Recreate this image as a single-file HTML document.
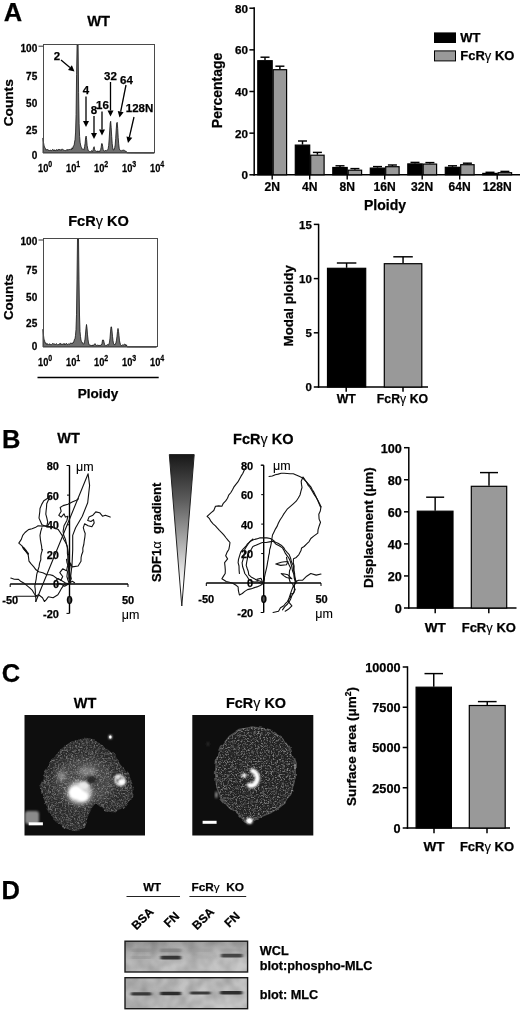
<!DOCTYPE html>
<html lang="en"><head><meta charset="utf-8"><title>Figure</title>
<style>html,body{margin:0;padding:0;background:#fff}body{width:520px;height:1012px;overflow:hidden}svg{display:block}text{font-family:'Liberation Sans', sans-serif;fill:#000;stroke:#000;stroke-width:0.25px}text.n{stroke-width:0.1px}</style></head><body>
<svg width="520" height="1012" viewBox="0 0 520 1012">
<defs>
<linearGradient id="blotbg" x1="0" y1="0" x2="1" y2="0.3">
<stop offset="0" stop-color="#b2b2b2"/><stop offset="0.5" stop-color="#c2c2c2"/><stop offset="1" stop-color="#c8c8c8"/>
</linearGradient>
<linearGradient id="blottop" x1="0" y1="0" x2="0" y2="1">
<stop offset="0" stop-color="#000" stop-opacity="0.16"/><stop offset="0.6" stop-color="#000" stop-opacity="0"/>
</linearGradient>
<linearGradient id="gradTri" x1="0" y1="0" x2="0" y2="1">
<stop offset="0" stop-color="#181818"/><stop offset="0.3" stop-color="#5c5c5c"/><stop offset="0.62" stop-color="#b8b8b8"/><stop offset="0.86" stop-color="#ffffff"/>
</linearGradient>
<filter id="blur1" x="-50%" y="-50%" width="200%" height="200%"><feGaussianBlur stdDeviation="1"/></filter>
<filter id="blur2" x="-50%" y="-50%" width="200%" height="200%"><feGaussianBlur stdDeviation="2"/></filter>
<filter id="blur3" x="-50%" y="-50%" width="200%" height="200%"><feGaussianBlur stdDeviation="3.5"/></filter>
<filter id="blurb" x="-20%" y="-150%" width="140%" height="400%"><feGaussianBlur stdDeviation="1.6 0.75"/></filter>
<filter id="rough" x="-10%" y="-10%" width="120%" height="120%">
<feTurbulence type="fractalNoise" baseFrequency="0.12" numOctaves="2" seed="7" result="t"/>
<feDisplacementMap in="SourceGraphic" in2="t" scale="4" xChannelSelector="R" yChannelSelector="G" result="d"/>
<feGaussianBlur in="d" stdDeviation="0.55"/>
</filter>
<filter id="speckA" x="0" y="0" width="100%" height="100%">
<feTurbulence type="fractalNoise" baseFrequency="0.6" numOctaves="2" seed="4" result="n"/>
<feColorMatrix in="n" type="matrix" values="0 0 0 0 1  0 0 0 0 1  0 0 0 0 1  2.2 2.2 0 0 -2.0" result="s"/>
<feComposite in="s" in2="SourceAlpha" operator="in"/>
</filter>
<filter id="speckB" x="0" y="0" width="100%" height="100%">
<feTurbulence type="fractalNoise" baseFrequency="0.7" numOctaves="2" seed="11" result="n"/>
<feColorMatrix in="n" type="matrix" values="0 0 0 0 1  0 0 0 0 1  0 0 0 0 1  2.4 2.4 0 0 -2.25" result="s"/>
<feComposite in="s" in2="SourceAlpha" operator="in"/>
</filter>
<filter id="blotn" x="0" y="0" width="100%" height="100%">
<feTurbulence type="fractalNoise" baseFrequency="0.08" numOctaves="2" seed="2" result="n"/>
<feColorMatrix in="n" type="matrix" values="0 0 0 0 0  0 0 0 0 0  0 0 0 0 0  0.3 0 0 0 -0.08" result="s"/>
<feComposite in="s" in2="SourceAlpha" operator="in"/>
</filter>
</defs>
<rect width="520" height="1012" fill="#fff"/>
<text x="3.8" y="21" font-size="25.5" font-weight="bold" text-anchor="start">A</text>
<text transform="translate(98.6 26.1) scale(0.95 1)" font-size="15.5" font-weight="bold" text-anchor="middle">WT</text>
<path d="M43.00,153.00 L43.00,137.96 L43.50,142.50 L44.00,145.28 L44.50,146.78 L45.01,148.15 L45.51,148.50 L46.01,150.31 L46.51,149.84 L47.01,149.22 L47.51,149.77 L48.01,149.42 L48.51,150.71 L49.02,150.16 L49.52,150.52 L50.02,150.05 L50.52,150.01 L51.02,150.91 L51.52,150.58 L52.02,150.48 L52.53,149.46 L53.03,149.69 L53.53,150.66 L54.03,149.64 L54.53,150.69 L55.03,149.92 L55.53,150.70 L56.04,150.89 L56.54,149.50 L57.04,150.55 L57.54,150.54 L58.04,149.30 L58.54,149.47 L59.04,150.40 L59.54,149.32 L60.05,149.98 L60.55,149.75 L61.05,150.50 L61.55,149.31 L62.05,149.70 L62.55,149.25 L63.05,149.35 L63.56,150.29 L64.06,150.17 L64.56,150.46 L65.06,150.48 L65.56,150.58 L66.06,150.18 L66.56,149.66 L67.06,150.59 L67.57,149.47 L68.07,149.97 L68.57,149.96 L69.07,149.08 L69.57,149.54 L70.07,149.71 L70.57,149.33 L71.08,148.81 L71.58,149.61 L72.08,147.81 L72.58,148.84 L73.08,146.93 L73.58,145.70 L74.08,145.48 L74.59,142.08 L75.09,139.43 L75.59,132.06 L76.09,114.50 L76.59,74.70 L77.09,45.00 L77.59,45.00 L78.09,45.00 L78.60,92.51 L79.10,123.51 L79.60,136.40 L80.10,142.25 L80.60,144.98 L81.10,146.64 L81.60,147.64 L82.11,149.40 L82.61,149.14 L83.11,149.40 L83.61,149.33 L84.11,149.75 L84.61,146.41 L85.11,143.24 L85.61,137.92 L86.12,136.08 L86.62,139.51 L87.12,145.45 L87.62,148.15 L88.12,150.18 L88.62,151.01 L89.12,151.20 L89.63,151.48 L90.13,151.67 L90.63,151.63 L91.13,150.95 L91.63,150.57 L92.13,151.64 L92.63,151.65 L93.14,149.52 L93.64,147.56 L94.14,146.70 L94.64,149.54 L95.14,150.75 L95.64,150.81 L96.14,151.36 L96.64,151.43 L97.15,151.92 L97.65,150.80 L98.15,151.94 L98.65,151.32 L99.15,150.83 L99.65,151.67 L100.15,150.65 L100.66,149.43 L101.16,147.36 L101.66,143.64 L102.16,143.65 L102.66,146.29 L103.16,149.71 L103.66,150.19 L104.16,151.27 L104.67,151.13 L105.17,150.41 L105.67,150.56 L106.17,150.32 L106.67,150.88 L107.17,150.59 L107.67,149.71 L108.18,148.58 L108.68,145.46 L109.18,139.11 L109.68,130.95 L110.18,123.22 L110.68,121.28 L111.18,127.47 L111.69,136.50 L112.19,143.57 L112.69,147.75 L113.19,149.80 L113.69,150.05 L114.19,149.11 L114.69,147.68 L115.19,145.06 L115.70,138.39 L116.20,130.09 L116.70,123.09 L117.20,122.35 L117.70,128.51 L118.20,137.54 L118.70,143.88 L119.21,148.35 L119.71,149.86 L120.21,150.19 L120.71,150.58 L121.21,151.23 L121.71,150.39 L122.21,150.58 L122.71,150.22 L123.22,150.47 L123.72,149.77 L124.22,150.69 L124.72,150.70 L125.22,151.30 L125.72,150.97 L126.22,151.24 L126.73,152.81 L127.23,152.83 L127.73,152.85 L128.23,152.86 L128.73,152.87 L129.23,152.88 L129.73,152.89 L130.24,152.89 L130.74,152.90 L131.24,152.91 L131.74,152.91 L132.24,152.92 L132.74,152.92 L133.24,152.92 L133.74,152.93 L134.25,152.93 L134.75,152.93 L135.25,152.94 L135.75,152.94 L136.25,152.94 L136.75,152.94 L137.25,152.95 L137.76,152.95 L138.26,152.95 L138.76,152.95 L139.26,152.95 L139.76,152.96 L140.26,152.96 L140.76,152.96 L141.26,152.96 L141.77,152.96 L142.27,152.96 L142.77,152.96 L143.27,152.96 L143.77,152.97 L144.27,152.97 L144.77,152.97 L145.28,152.97 L145.78,152.97 L146.28,152.97 L146.78,152.97 L147.28,152.97 L147.78,152.97 L148.28,152.97 L148.79,152.97 L149.29,152.97 L149.79,152.97 L150.29,152.98 L150.79,152.98 L151.29,152.98 L151.79,152.98 L152.29,152.98 L152.80,152.98 L153.30,152.98 L153.80,152.98 L154.30,152.98 L154.30,153.00 Z" fill="#6e6e6e" stroke="#111" stroke-width="0.8" stroke-linejoin="round"/>
<rect x="43.50" y="44.50" width="111.00" height="108.00" fill="none" stroke="#4a4a4a" stroke-width="1"/>
<text transform="translate(37.3 51.8) scale(0.95 1)" font-size="10.6" font-weight="bold" text-anchor="end">100</text>
<line x1="38.50" y1="46.20" x2="43.00" y2="46.20" stroke="#333" stroke-width="1"/>
<text transform="translate(37.3 80.4) scale(0.95 1)" font-size="10.6" font-weight="bold" text-anchor="end">75</text>
<text transform="translate(37.3 106.9) scale(0.95 1)" font-size="10.6" font-weight="bold" text-anchor="end">50</text>
<text transform="translate(37.3 133.5) scale(0.95 1)" font-size="10.6" font-weight="bold" text-anchor="end">25</text>
<text transform="translate(37.3 159.1) scale(0.95 1)" font-size="10.6" font-weight="bold" text-anchor="end">0</text>
<text transform="translate(38 171.8) scale(0.82 1)" font-size="11.3" font-weight="bold" text-anchor="start">10<tspan dy="-4.4" font-size="8.6">0</tspan></text>
<text transform="translate(66 171.8) scale(0.82 1)" font-size="11.3" font-weight="bold" text-anchor="start">10<tspan dy="-4.4" font-size="8.6">1</tspan></text>
<text transform="translate(94 171.8) scale(0.82 1)" font-size="11.3" font-weight="bold" text-anchor="start">10<tspan dy="-4.4" font-size="8.6">2</tspan></text>
<text transform="translate(122 171.8) scale(0.82 1)" font-size="11.3" font-weight="bold" text-anchor="start">10<tspan dy="-4.4" font-size="8.6">3</tspan></text>
<text transform="translate(150 171.8) scale(0.82 1)" font-size="11.3" font-weight="bold" text-anchor="start">10<tspan dy="-4.4" font-size="8.6">4</tspan></text>
<text transform="translate(12.6 102.8) rotate(-90)" font-size="13.7" font-weight="bold" text-anchor="middle">Counts</text>
<text x="57" y="59.5" font-size="11.5" font-weight="bold" text-anchor="middle">2</text>
<line x1="61.00" y1="60.00" x2="69.93" y2="67.61" stroke="#000" stroke-width="1.3"/>
<polygon points="74.50,71.50 67.99,69.89 71.88,65.33" fill="#000"/>
<text x="86" y="94" font-size="11.5" font-weight="bold" text-anchor="middle">4</text>
<line x1="86.00" y1="96.50" x2="86.00" y2="121.00" stroke="#000" stroke-width="1.3"/>
<polygon points="86.00,127.00 83.00,121.00 89.00,121.00" fill="#000"/>
<text x="94" y="114" font-size="11.5" font-weight="bold" text-anchor="middle">8</text>
<line x1="94.00" y1="116.00" x2="94.00" y2="133.00" stroke="#000" stroke-width="1.3"/>
<polygon points="94.00,139.00 91.00,133.00 97.00,133.00" fill="#000"/>
<text x="102.5" y="108.5" font-size="11.5" font-weight="bold" text-anchor="middle">16</text>
<line x1="102.00" y1="111.50" x2="102.00" y2="129.50" stroke="#000" stroke-width="1.3"/>
<polygon points="102.00,135.50 99.00,129.50 105.00,129.50" fill="#000"/>
<text x="110.5" y="80" font-size="11.5" font-weight="bold" text-anchor="middle">32</text>
<line x1="110.50" y1="82.00" x2="110.50" y2="110.50" stroke="#000" stroke-width="1.3"/>
<polygon points="110.50,116.50 107.50,110.50 113.50,110.50" fill="#000"/>
<text x="126.5" y="83.5" font-size="11.5" font-weight="bold" text-anchor="middle">64</text>
<line x1="126.00" y1="85.00" x2="120.68" y2="111.62" stroke="#000" stroke-width="1.3"/>
<polygon points="119.50,117.50 117.73,111.03 123.62,112.20" fill="#000"/>
<text x="139.5" y="111.5" font-size="11.5" font-weight="bold" text-anchor="middle">128N</text>
<line x1="134.00" y1="117.00" x2="129.35" y2="137.15" stroke="#000" stroke-width="1.3"/>
<polygon points="128.00,143.00 126.43,136.48 132.27,137.83" fill="#000"/>
<text transform="translate(98.5 226) scale(0.94 1)" font-size="15.5" font-weight="bold" text-anchor="middle">FcR<tspan font-weight="normal" stroke-width="0.1">γ</tspan> KO</text>
<path d="M43.00,347.00 L43.00,329.22 L43.50,335.27 L44.00,339.22 L44.50,340.23 L45.00,342.92 L45.50,342.92 L46.00,342.77 L46.50,344.37 L47.00,343.79 L47.50,343.80 L48.00,344.78 L48.50,344.28 L49.00,343.78 L49.50,344.20 L50.00,343.77 L50.50,344.68 L51.00,344.55 L51.50,344.76 L52.00,344.12 L52.50,343.45 L53.00,343.98 L53.50,343.69 L54.00,344.31 L54.50,343.73 L55.00,344.76 L55.50,344.45 L56.00,343.83 L56.50,343.75 L57.00,344.23 L57.50,344.76 L58.00,344.47 L58.50,344.55 L59.00,344.43 L59.50,343.58 L60.00,344.55 L60.50,343.44 L61.00,343.45 L61.50,344.76 L62.00,344.23 L62.50,344.04 L63.00,344.78 L63.50,344.12 L64.00,343.34 L64.50,344.60 L65.00,343.80 L65.50,344.55 L66.00,343.79 L66.50,343.26 L67.00,344.34 L67.50,344.62 L68.00,344.47 L68.50,343.70 L69.00,344.49 L69.50,344.32 L70.00,343.60 L70.50,342.84 L71.00,343.54 L71.50,343.45 L72.00,342.89 L72.50,343.52 L73.00,342.39 L73.50,342.50 L74.00,341.00 L74.50,339.23 L75.00,338.91 L75.50,335.33 L76.00,329.47 L76.50,314.78 L77.00,279.11 L77.50,238.80 L78.00,238.80 L78.50,238.80 L79.00,279.88 L79.50,315.02 L80.00,331.35 L80.50,336.61 L81.00,340.10 L81.50,341.41 L82.00,342.16 L82.50,343.01 L83.00,343.20 L83.50,344.25 L84.00,343.64 L84.50,341.77 L85.00,339.13 L85.50,334.08 L86.00,328.15 L86.50,324.48 L87.00,328.04 L87.50,334.89 L88.00,339.23 L88.50,343.00 L89.00,344.26 L89.50,345.08 L90.00,345.00 L90.50,345.27 L91.00,345.66 L91.50,345.02 L92.00,345.75 L92.50,344.89 L93.00,345.90 L93.50,344.91 L94.00,344.72 L94.50,344.49 L95.00,343.62 L95.50,344.84 L96.00,344.86 L96.50,345.45 L97.00,345.74 L97.50,344.80 L98.00,345.53 L98.50,345.57 L99.00,344.93 L99.50,345.55 L100.00,345.13 L100.50,345.70 L101.00,344.61 L101.50,344.69 L102.00,343.41 L102.50,340.04 L103.00,339.88 L103.50,340.06 L104.00,342.17 L104.50,344.19 L105.00,345.62 L105.50,345.75 L106.00,345.60 L106.50,345.36 L107.00,345.03 L107.50,344.50 L108.00,345.16 L108.50,345.11 L109.00,343.71 L109.50,342.17 L110.00,338.21 L110.50,331.93 L111.00,326.77 L111.50,327.01 L112.00,330.86 L112.50,336.30 L113.00,340.62 L113.50,343.50 L114.00,343.83 L114.50,345.06 L115.00,344.32 L115.50,343.83 L116.00,342.45 L116.50,340.20 L117.00,336.25 L117.50,331.40 L118.00,328.44 L118.50,331.28 L119.00,335.64 L119.50,340.85 L120.00,342.75 L120.50,344.78 L121.00,345.55 L121.50,345.49 L122.00,345.13 L122.50,344.88 L123.00,344.90 L123.50,344.96 L124.00,344.47 L124.50,344.01 L125.00,344.82 L125.50,344.56 L126.00,345.94 L126.50,344.80 L127.00,346.84 L127.50,346.87 L128.00,346.89 L128.50,346.90 L129.00,346.91 L129.50,346.91 L130.00,346.92 L130.50,346.92 L131.00,346.93 L131.50,346.93 L132.00,346.94 L132.50,346.94 L133.00,346.94 L133.50,346.95 L134.00,346.95 L134.50,346.95 L135.00,346.95 L135.50,346.96 L136.00,346.96 L136.50,346.96 L137.00,346.96 L137.50,346.96 L138.00,346.96 L138.50,346.96 L139.00,346.97 L139.50,346.97 L140.00,346.97 L140.50,346.97 L141.00,346.97 L141.50,346.97 L142.00,346.97 L142.50,346.97 L143.00,346.97 L143.50,346.97 L144.00,346.97 L144.50,346.98 L145.00,346.98 L145.50,346.98 L146.00,346.98 L146.50,346.98 L147.00,346.98 L147.50,346.98 L148.00,346.98 L148.50,346.98 L149.00,346.98 L149.50,346.98 L150.00,346.98 L150.50,346.98 L151.00,346.98 L151.50,346.98 L152.00,346.98 L152.50,346.98 L153.00,346.98 L153.50,346.98 L154.00,346.98 L154.50,346.98 L155.00,346.98 L155.50,346.98 L156.00,346.99 L156.50,346.99 L156.50,347.00 Z" fill="#6e6e6e" stroke="#111" stroke-width="0.8" stroke-linejoin="round"/>
<rect x="43.50" y="238.50" width="114.00" height="108.00" fill="none" stroke="#4a4a4a" stroke-width="1"/>
<text transform="translate(37.3 245.1) scale(0.95 1)" font-size="10.6" font-weight="bold" text-anchor="end">100</text>
<line x1="38.50" y1="240.00" x2="43.00" y2="240.00" stroke="#333" stroke-width="1"/>
<text transform="translate(37.3 274) scale(0.95 1)" font-size="10.6" font-weight="bold" text-anchor="end">75</text>
<text transform="translate(37.3 300.5) scale(0.95 1)" font-size="10.6" font-weight="bold" text-anchor="end">50</text>
<text transform="translate(37.3 326.7) scale(0.95 1)" font-size="10.6" font-weight="bold" text-anchor="end">25</text>
<text transform="translate(37.3 350.2) scale(0.95 1)" font-size="10.6" font-weight="bold" text-anchor="end">0</text>
<text transform="translate(38 365.5) scale(0.82 1)" font-size="11.3" font-weight="bold" text-anchor="start">10<tspan dy="-4.4" font-size="8.6">0</tspan></text>
<text transform="translate(66 365.5) scale(0.82 1)" font-size="11.3" font-weight="bold" text-anchor="start">10<tspan dy="-4.4" font-size="8.6">1</tspan></text>
<text transform="translate(94 365.5) scale(0.82 1)" font-size="11.3" font-weight="bold" text-anchor="start">10<tspan dy="-4.4" font-size="8.6">2</tspan></text>
<text transform="translate(122 365.5) scale(0.82 1)" font-size="11.3" font-weight="bold" text-anchor="start">10<tspan dy="-4.4" font-size="8.6">3</tspan></text>
<text transform="translate(150 365.5) scale(0.82 1)" font-size="11.3" font-weight="bold" text-anchor="start">10<tspan dy="-4.4" font-size="8.6">4</tspan></text>
<text transform="translate(12.6 297) rotate(-90)" font-size="13.4" font-weight="bold" text-anchor="middle">Counts</text>
<line x1="37.50" y1="377.50" x2="158.70" y2="377.50" stroke="#000" stroke-width="1.6"/>
<text x="98" y="397.8" font-size="13.5" font-weight="bold" text-anchor="middle">Ploidy</text>
<line x1="254.20" y1="7.30" x2="254.20" y2="175.55" stroke="#000" stroke-width="1.5"/>
<line x1="253.45" y1="174.80" x2="520.00" y2="174.80" stroke="#000" stroke-width="1.5"/>
<line x1="249.40" y1="174.80" x2="254.20" y2="174.80" stroke="#000" stroke-width="1.5"/>
<text x="248" y="179.1" font-size="11.7" font-weight="bold" text-anchor="end">0</text>
<line x1="249.40" y1="133.15" x2="254.20" y2="133.15" stroke="#000" stroke-width="1.5"/>
<text x="248" y="137.5" font-size="11.7" font-weight="bold" text-anchor="end">20</text>
<line x1="249.40" y1="91.50" x2="254.20" y2="91.50" stroke="#000" stroke-width="1.5"/>
<text x="248" y="95.8" font-size="11.7" font-weight="bold" text-anchor="end">40</text>
<line x1="249.40" y1="49.85" x2="254.20" y2="49.85" stroke="#000" stroke-width="1.5"/>
<text x="248" y="54.2" font-size="11.7" font-weight="bold" text-anchor="end">60</text>
<line x1="249.40" y1="8.20" x2="254.20" y2="8.20" stroke="#000" stroke-width="1.5"/>
<text x="248" y="12.5" font-size="11.7" font-weight="bold" text-anchor="end">80</text>
<text transform="translate(221.5 90.4) rotate(-90)" font-size="14" font-weight="bold" text-anchor="middle">Percentage</text>
<line x1="265.00" y1="57.20" x2="265.00" y2="60.20" stroke="#000" stroke-width="1.45"/>
<line x1="260.50" y1="57.20" x2="269.50" y2="57.20" stroke="#000" stroke-width="1.45"/>
<rect x="257.80" y="60.70" width="14.40" height="114.10" fill="#000" stroke="#000" stroke-width="1.2"/>
<line x1="279.90" y1="66.20" x2="279.90" y2="69.20" stroke="#000" stroke-width="1.45"/>
<line x1="275.40" y1="66.20" x2="284.40" y2="66.20" stroke="#000" stroke-width="1.45"/>
<rect x="273.20" y="69.70" width="13.40" height="105.10" fill="#999" stroke="#000" stroke-width="1.2"/>
<line x1="272.20" y1="174.80" x2="272.20" y2="179.40" stroke="#000" stroke-width="1.4"/>
<text transform="translate(272.2 191.2) scale(0.93 1)" font-size="13" font-weight="bold" text-anchor="middle">2N</text>
<line x1="302.50" y1="141.00" x2="302.50" y2="144.60" stroke="#000" stroke-width="1.45"/>
<line x1="298.00" y1="141.00" x2="307.00" y2="141.00" stroke="#000" stroke-width="1.45"/>
<rect x="295.30" y="145.10" width="14.40" height="29.70" fill="#000" stroke="#000" stroke-width="1.2"/>
<line x1="317.40" y1="152.40" x2="317.40" y2="154.70" stroke="#000" stroke-width="1.45"/>
<line x1="312.90" y1="152.40" x2="321.90" y2="152.40" stroke="#000" stroke-width="1.45"/>
<rect x="310.70" y="155.20" width="13.40" height="19.60" fill="#999" stroke="#000" stroke-width="1.2"/>
<line x1="309.70" y1="174.80" x2="309.70" y2="179.40" stroke="#000" stroke-width="1.4"/>
<text transform="translate(309.7 191.2) scale(0.93 1)" font-size="13" font-weight="bold" text-anchor="middle">4N</text>
<line x1="340.00" y1="165.80" x2="340.00" y2="167.00" stroke="#000" stroke-width="1.45"/>
<line x1="335.50" y1="165.80" x2="344.50" y2="165.80" stroke="#000" stroke-width="1.45"/>
<rect x="332.80" y="167.50" width="14.40" height="7.30" fill="#000" stroke="#000" stroke-width="1.2"/>
<line x1="354.90" y1="168.60" x2="354.90" y2="169.70" stroke="#000" stroke-width="1.45"/>
<line x1="350.40" y1="168.60" x2="359.40" y2="168.60" stroke="#000" stroke-width="1.45"/>
<rect x="348.20" y="170.20" width="13.40" height="4.60" fill="#999" stroke="#000" stroke-width="1.2"/>
<line x1="347.20" y1="174.80" x2="347.20" y2="179.40" stroke="#000" stroke-width="1.4"/>
<text transform="translate(347.2 191.2) scale(0.93 1)" font-size="13" font-weight="bold" text-anchor="middle">8N</text>
<line x1="377.50" y1="166.60" x2="377.50" y2="167.60" stroke="#000" stroke-width="1.45"/>
<line x1="373.00" y1="166.60" x2="382.00" y2="166.60" stroke="#000" stroke-width="1.45"/>
<rect x="370.30" y="168.10" width="14.40" height="6.70" fill="#000" stroke="#000" stroke-width="1.2"/>
<line x1="392.40" y1="165.00" x2="392.40" y2="166.20" stroke="#000" stroke-width="1.45"/>
<line x1="387.90" y1="165.00" x2="396.90" y2="165.00" stroke="#000" stroke-width="1.45"/>
<rect x="385.70" y="166.70" width="13.40" height="8.10" fill="#999" stroke="#000" stroke-width="1.2"/>
<line x1="384.70" y1="174.80" x2="384.70" y2="179.40" stroke="#000" stroke-width="1.4"/>
<text transform="translate(384.7 191.2) scale(0.93 1)" font-size="13" font-weight="bold" text-anchor="middle">16N</text>
<line x1="415.00" y1="162.40" x2="415.00" y2="163.40" stroke="#000" stroke-width="1.45"/>
<line x1="410.50" y1="162.40" x2="419.50" y2="162.40" stroke="#000" stroke-width="1.45"/>
<rect x="407.80" y="163.90" width="14.40" height="10.90" fill="#000" stroke="#000" stroke-width="1.2"/>
<line x1="429.90" y1="162.60" x2="429.90" y2="163.60" stroke="#000" stroke-width="1.45"/>
<line x1="425.40" y1="162.60" x2="434.40" y2="162.60" stroke="#000" stroke-width="1.45"/>
<rect x="423.20" y="164.10" width="13.40" height="10.70" fill="#999" stroke="#000" stroke-width="1.2"/>
<line x1="422.20" y1="174.80" x2="422.20" y2="179.40" stroke="#000" stroke-width="1.4"/>
<text transform="translate(422.2 191.2) scale(0.93 1)" font-size="13" font-weight="bold" text-anchor="middle">32N</text>
<line x1="452.50" y1="165.80" x2="452.50" y2="166.80" stroke="#000" stroke-width="1.45"/>
<line x1="448.00" y1="165.80" x2="457.00" y2="165.80" stroke="#000" stroke-width="1.45"/>
<rect x="445.30" y="167.30" width="14.40" height="7.50" fill="#000" stroke="#000" stroke-width="1.2"/>
<line x1="467.40" y1="163.20" x2="467.40" y2="164.20" stroke="#000" stroke-width="1.45"/>
<line x1="462.90" y1="163.20" x2="471.90" y2="163.20" stroke="#000" stroke-width="1.45"/>
<rect x="460.70" y="164.70" width="13.40" height="10.10" fill="#999" stroke="#000" stroke-width="1.2"/>
<line x1="459.70" y1="174.80" x2="459.70" y2="179.40" stroke="#000" stroke-width="1.4"/>
<text transform="translate(459.7 191.2) scale(0.93 1)" font-size="13" font-weight="bold" text-anchor="middle">64N</text>
<line x1="490.00" y1="172.30" x2="490.00" y2="172.90" stroke="#000" stroke-width="1.45"/>
<line x1="485.50" y1="172.30" x2="494.50" y2="172.30" stroke="#000" stroke-width="1.45"/>
<rect x="482.80" y="173.40" width="14.40" height="1.40" fill="#000" stroke="#000" stroke-width="1.2"/>
<line x1="504.90" y1="171.40" x2="504.90" y2="172.20" stroke="#000" stroke-width="1.45"/>
<line x1="500.40" y1="171.40" x2="509.40" y2="171.40" stroke="#000" stroke-width="1.45"/>
<rect x="498.20" y="172.70" width="13.40" height="2.10" fill="#999" stroke="#000" stroke-width="1.2"/>
<line x1="497.20" y1="174.80" x2="497.20" y2="179.40" stroke="#000" stroke-width="1.4"/>
<text transform="translate(497.2 191.2) scale(0.93 1)" font-size="13" font-weight="bold" text-anchor="middle">128N</text>
<text x="385" y="209.8" font-size="14" font-weight="bold" text-anchor="middle">Ploidy</text>
<rect x="434.00" y="32.40" width="22.00" height="10.60" fill="#000" stroke="none" stroke-width="1"/>
<rect x="434.50" y="50.90" width="21.00" height="10.00" fill="#999" stroke="#000" stroke-width="1"/>
<text x="460.3" y="42.4" font-size="13" font-weight="bold" text-anchor="start">WT</text>
<text x="460.3" y="60.4" font-size="13" font-weight="bold" text-anchor="start">FcR<tspan font-weight="normal" stroke-width="0.1">γ</tspan> KO</text>
<line x1="318.60" y1="223.80" x2="318.60" y2="387.75" stroke="#000" stroke-width="1.5"/>
<line x1="317.85" y1="387.00" x2="428.00" y2="387.00" stroke="#000" stroke-width="1.5"/>
<line x1="313.80" y1="387.00" x2="318.60" y2="387.00" stroke="#000" stroke-width="1.5"/>
<text x="311.8" y="391.3" font-size="11.5" font-weight="bold" text-anchor="end">0</text>
<line x1="313.80" y1="332.80" x2="318.60" y2="332.80" stroke="#000" stroke-width="1.5"/>
<text x="311.8" y="337.1" font-size="11.5" font-weight="bold" text-anchor="end">5</text>
<line x1="313.80" y1="278.60" x2="318.60" y2="278.60" stroke="#000" stroke-width="1.5"/>
<text x="311.8" y="282.9" font-size="11.5" font-weight="bold" text-anchor="end">10</text>
<line x1="313.80" y1="224.40" x2="318.60" y2="224.40" stroke="#000" stroke-width="1.5"/>
<text x="311.8" y="228.7" font-size="11.5" font-weight="bold" text-anchor="end">15</text>
<text transform="translate(293 305.8) rotate(-90)" font-size="13.3" font-weight="bold" text-anchor="middle">Modal ploidy</text>
<line x1="346.60" y1="263.00" x2="346.60" y2="267.80" stroke="#000" stroke-width="1.45"/>
<line x1="336.85" y1="263.00" x2="356.35" y2="263.00" stroke="#000" stroke-width="1.45"/>
<rect x="327.50" y="268.30" width="38.20" height="118.70" fill="#000" stroke="#000" stroke-width="1.2"/>
<line x1="403.05" y1="256.80" x2="403.05" y2="263.20" stroke="#000" stroke-width="1.45"/>
<line x1="393.30" y1="256.80" x2="412.80" y2="256.80" stroke="#000" stroke-width="1.45"/>
<rect x="384.30" y="263.70" width="37.50" height="123.30" fill="#999" stroke="#000" stroke-width="1.2"/>
<line x1="346.20" y1="387.00" x2="346.20" y2="391.80" stroke="#000" stroke-width="1.5"/>
<line x1="403.00" y1="387.00" x2="403.00" y2="391.80" stroke="#000" stroke-width="1.5"/>
<text x="346.3" y="403" font-size="12.3" font-weight="bold" text-anchor="middle">WT</text>
<text x="402.5" y="403" font-size="12.3" font-weight="bold" text-anchor="middle">FcR<tspan font-weight="normal" stroke-width="0.1">γ</tspan> KO</text>
<text x="1.9" y="448" font-size="25.5" font-weight="bold" text-anchor="start">B</text>
<text transform="translate(68.5 443.3) scale(0.95 1)" font-size="15.3" font-weight="bold" text-anchor="middle">WT</text>
<text transform="translate(263.3 443.6) scale(0.95 1)" font-size="15.3" font-weight="bold" text-anchor="middle">FcR<tspan font-weight="normal" stroke-width="0.1">γ</tspan> KO</text>
<line x1="69.50" y1="465.50" x2="69.50" y2="613.40" stroke="#000" stroke-width="1.4"/>
<line x1="10.20" y1="584.00" x2="128.00" y2="584.00" stroke="#000" stroke-width="1.4"/>
<line x1="69.50" y1="465.50" x2="66.50" y2="465.50" stroke="#000" stroke-width="1"/>
<line x1="69.50" y1="613.40" x2="66.50" y2="613.40" stroke="#000" stroke-width="1"/>
<line x1="10.20" y1="584.00" x2="10.20" y2="587.00" stroke="#000" stroke-width="1"/>
<line x1="128.00" y1="584.00" x2="128.00" y2="587.00" stroke="#000" stroke-width="1"/>
<line x1="67.00" y1="465.50" x2="69.50" y2="465.50" stroke="#000" stroke-width="1"/>
<text x="59.0" y="470.0" font-size="11" font-weight="bold" text-anchor="end">80</text>
<line x1="67.00" y1="495.12" x2="69.50" y2="495.12" stroke="#000" stroke-width="1"/>
<text x="59.0" y="499.6" font-size="11" font-weight="bold" text-anchor="end">60</text>
<line x1="67.00" y1="524.75" x2="69.50" y2="524.75" stroke="#000" stroke-width="1"/>
<text x="59.0" y="529.2" font-size="11" font-weight="bold" text-anchor="end">40</text>
<line x1="67.00" y1="554.38" x2="69.50" y2="554.38" stroke="#000" stroke-width="1"/>
<text x="59.0" y="558.9" font-size="11" font-weight="bold" text-anchor="end">20</text>
<text x="59.0" y="617.6" font-size="11" font-weight="bold" text-anchor="end">-20</text>
<text x="59.0" y="587.5" font-size="11" font-weight="bold" text-anchor="end">0</text>
<text x="10.2" y="604" font-size="11" font-weight="bold" text-anchor="middle">-50</text>
<text x="69.5" y="604" font-size="11" font-weight="bold" text-anchor="middle">0</text>
<text x="128" y="604" font-size="11" font-weight="bold" text-anchor="middle">50</text>
<text class="n" x="76" y="470.5" font-size="12.5" font-weight="normal" text-anchor="start">μm</text>
<text class="n" x="130.5" y="619" font-size="12.5" font-weight="normal" text-anchor="middle">μm</text>
<ellipse cx="69.5" cy="600" rx="1.6" ry="3" fill="#555" stroke="#000" stroke-width="0.8"/>
<path d="M35.8,601.5 L88.1,473.8 L89.6,485.4 L87.7,502.7 L82.3,516.2 L75.6,527.7 L72.7,535.4 L72.7,550.0 L72.0,565.0 L70.5,578.0 L69.5,584.0" fill="none" stroke="#111" stroke-width="1.1" stroke-linejoin="round" stroke-linecap="round"/>
<path d="M49.6,496.5 L46.9,498.8 L43.8,500.8 L41.7,504.4 L40.0,508.5 L39.8,511.8 L39.4,514.8 L39.0,518.1 L40.5,521.5 L41.9,524.8 L46.7,526.7 L47.7,521.9 L46.8,517.9 L45.8,514.2 L46.1,510.7 L46.5,507.4 L46.7,503.7 L48.4,500.1 L49.6,496.5" fill="none" stroke="#111" stroke-width="1.1" stroke-linejoin="round" stroke-linecap="round"/>
<path d="M41.9,527.7 L40.7,531.6 L40.0,535.4 L40.4,539.3 L41.0,543.1 L41.6,546.1 L41.9,550.0 L42.5,549.6 L41.3,553.3 L40.8,556.1 L40.8,559.7 L39.6,563.1 L39.0,566.9 L37.8,570.5 L36.7,574.6 L36.2,578.8 L35.5,582.5 L34.8,586.2 L35.2,588.8 L35.4,592.4 L35.2,595.0 L35.9,598.4 L35.8,601.5" fill="none" stroke="#111" stroke-width="1.1" stroke-linejoin="round" stroke-linecap="round"/>
<path d="M46.7,526.7 L49.9,526.9 L53.5,527.7 L58.3,529.6 L60.1,532.2 L62.1,535.4 L63.7,539.2 L66.0,543.1 L67.3,546.8 L67.9,550.0 L68.3,552.8 L68.2,555.8 L68.1,558.7 L68.5,562.0 L68.4,565.5 L69.0,568.5 L69.2,571.2 L68.9,574.7 L69.4,578.0 L69.7,580.5 L69.5,584.0" fill="none" stroke="#111" stroke-width="1.1" stroke-linejoin="round" stroke-linecap="round"/>
<path d="M46.7,525.8 L42.6,526.1 L38.1,525.8 L35.2,527.6 L32.0,528.8 L28.5,529.6 L25.0,532.5 L22.7,535.4 L21.3,539.4 L18.8,543.1 L22.0,545.9 L24.2,549.6 L26.1,551.7 L28.1,554.4 L28.6,557.9 L29.0,561.2 L30.9,563.7 L33.8,566.9 L36.0,569.8 L38.7,571.7 L42.8,572.8 L46.3,574.6 L50.1,574.7 L53.1,575.6 L56.9,578.5 L59.9,579.5 L62.7,581.3 L65.5,583.0 L69.4,583.8" fill="none" stroke="#111" stroke-width="1.1" stroke-linejoin="round" stroke-linecap="round"/>
<path d="M23.3,547.7 L26.2,551.2 L28.1,553.8" fill="none" stroke="#111" stroke-width="1.9" stroke-linejoin="round" stroke-linecap="round"/>
<path d="M78.5,498.8 L75.8,500.6 L72.7,501.7 L67.9,504.2 L63.1,505.6 L60.2,507.5 L61.2,511.3 L58.8,515.2 L61.2,517.1 L64.0,513.8 L65.4,517.1 L67.9,516.2 L66.9,520.4 L65.5,522.9 L64.0,525.8 L63.1,531.5 L63.8,535.5 L65.4,539.2 L66.3,543.3 L67.3,546.9 L67.4,550.4 L67.4,553.7 L68.0,556.7 L68.0,560.0 L68.2,563.2 L68.1,566.0 L68.8,568.8 L69.0,572.2 L69.2,574.9 L68.8,578.3 L69.6,581.0 L69.5,584.0" fill="none" stroke="#111" stroke-width="1.1" stroke-linejoin="round" stroke-linecap="round"/>
<path d="M110.2,517.1 L105.4,515.2 L102.5,516.2 L99.6,512.7 L95.8,511.9 L92.9,515.2 L89.0,517.1 L87.7,520.4 L91.0,521.5 L93.5,519.6 L94.2,522.9 L91.9,526.7 L88.1,525.8 L84.6,523.8 L83.3,527.7 L84.0,530.2 L85.2,533.5 L84.9,536.8 L84.2,541.2 L83.8,544.5 L82.8,548.1 L82.9,551.5 L81.7,554.7 L81.1,557.5 L81.0,561.2 L78.1,566.0 L72.3,566.9 L70.4,563.1 L69.8,567.3 L69.4,570.8 L70.0,574.3 L71.3,578.5 L69.4,583.8" fill="none" stroke="#111" stroke-width="1.1" stroke-linejoin="round" stroke-linecap="round"/>
<path d="M10.8,578.1 L14.3,579.2 L18.5,579.4 L21.0,581.6 L24.2,583.3 L26.7,585.4 L30.0,588.1 L32.4,590.4 L34.0,593.2 L35.8,595.8 L38.7,594.8 L42.5,597.7 L44.4,601.5 L46.3,599.6 L48.3,596.7 L53.1,597.7 L57.9,594.8 L59.8,591.4 L61.7,588.1 L64.6,584.2 L69.4,583.8" fill="none" stroke="#111" stroke-width="1.1" stroke-linejoin="round" stroke-linecap="round"/>
<path d="M15.6,596.2 L37.7,596.2" fill="none" stroke="#111" stroke-width="1.1" stroke-linejoin="round" stroke-linecap="round"/>
<path d="M55.0,581.3 L57.9,578.5 L60.8,580.4 L62.7,576.5 L59.8,572.7 L62.7,568.8 L66.5,570.8 L67.5,566.0 L71.3,565.0" fill="none" stroke="#111" stroke-width="1.1" stroke-linejoin="round" stroke-linecap="round"/>
<path d="M56.0,585.2 L59.8,583.3 L64.6,586.2 L67.2,584.7 L69.9,582.7 L72.3,581.3 L74.6,582.7" fill="none" stroke="#111" stroke-width="1.1" stroke-linejoin="round" stroke-linecap="round"/>
<path d="M66.5,559.2 L67.0,562.6 L68.0,565.9 L68.5,568.8 L67.4,572.5 L66.9,576.5 L67.9,580.0 L69.4,583.8" fill="none" stroke="#111" stroke-width="1.1" stroke-linejoin="round" stroke-linecap="round"/>
<line x1="263.70" y1="465.20" x2="263.70" y2="612.50" stroke="#000" stroke-width="1.4"/>
<line x1="206.30" y1="583.00" x2="321.00" y2="583.00" stroke="#000" stroke-width="1.4"/>
<line x1="263.70" y1="465.20" x2="260.70" y2="465.20" stroke="#000" stroke-width="1"/>
<line x1="263.70" y1="612.50" x2="260.70" y2="612.50" stroke="#000" stroke-width="1"/>
<line x1="206.30" y1="583.00" x2="206.30" y2="586.00" stroke="#000" stroke-width="1"/>
<line x1="321.00" y1="583.00" x2="321.00" y2="586.00" stroke="#000" stroke-width="1"/>
<line x1="261.20" y1="465.20" x2="263.70" y2="465.20" stroke="#000" stroke-width="1"/>
<text x="253.2" y="469.7" font-size="11" font-weight="bold" text-anchor="end">80</text>
<line x1="261.20" y1="494.65" x2="263.70" y2="494.65" stroke="#000" stroke-width="1"/>
<text x="253.2" y="499.1" font-size="11" font-weight="bold" text-anchor="end">60</text>
<line x1="261.20" y1="524.10" x2="263.70" y2="524.10" stroke="#000" stroke-width="1"/>
<text x="253.2" y="528.6" font-size="11" font-weight="bold" text-anchor="end">40</text>
<line x1="261.20" y1="553.55" x2="263.70" y2="553.55" stroke="#000" stroke-width="1"/>
<text x="253.2" y="558.0" font-size="11" font-weight="bold" text-anchor="end">20</text>
<text x="253.2" y="616.7" font-size="11" font-weight="bold" text-anchor="end">-20</text>
<text x="253.2" y="586.5" font-size="11" font-weight="bold" text-anchor="end">0</text>
<text x="206.3" y="603" font-size="11" font-weight="bold" text-anchor="middle">-50</text>
<text x="263.7" y="603" font-size="11" font-weight="bold" text-anchor="middle">0</text>
<text x="321.5" y="603" font-size="11" font-weight="bold" text-anchor="middle">50</text>
<text class="n" x="273" y="470.2" font-size="12.5" font-weight="normal" text-anchor="start">μm</text>
<text class="n" x="324.0" y="618" font-size="12.5" font-weight="normal" text-anchor="middle">μm</text>
<ellipse cx="263.7" cy="599" rx="1.6" ry="3" fill="#555" stroke="#000" stroke-width="0.8"/>
<path d="M246.2,467.1 L244.2,470.3 L242.9,473.2 L240.9,476.4 L239.4,479.2 L237.9,481.9 L235.9,484.4 L233.8,487.2 L232.5,489.7 L230.9,492.5 L228.7,495.1 L227.5,498.2 L225.7,500.9 L223.3,503.3 L221.9,506.2 L218.7,505.9 L215.5,506.2 L213.8,510.5 L211.2,512.6 L207.1,516.4 L209.5,518.7 L211.0,521.4 L213.1,523.8 L215.4,525.9 L217.4,528.2 L219.4,530.3 L221.9,532.8 L224.0,535.2 L226.2,538.0 L228.1,540.3 L230.0,542.5 L229.5,546.0 L228.9,549.2 L227.0,552.4 L225.7,555.7 L227.6,558.9 L224.6,562.7 L225.0,566.1 L225.3,570.1 L225.2,573.5 L223.5,576.1 L221.9,578.8 L226.2,581.5 L229.4,582.3 L232.7,583.2 L235.7,585.0 L238.1,586.9 L238.4,590.7 L239.4,595.0 L242.3,593.5 L244.8,591.4 L247.5,589.6 L250.7,588.9 L253.6,587.9 L256.9,586.9 L259.7,585.7 L262.3,584.2 L263.7,582.9" fill="none" stroke="#111" stroke-width="1.1" stroke-linejoin="round" stroke-linecap="round"/>
<path d="M263.7,582.9 L264.4,579.7 L264.5,577.1 L265.2,573.7 L265.9,570.8 L266.6,567.8 L267.2,564.8 L267.6,562.2 L268.2,559.2 L268.7,555.7 L269.4,553.0 L269.6,549.8 L270.5,547.0 L271.1,544.1 L271.6,541.0 L272.0,538.0 L272.5,535.0 L273.9,532.2 L275.4,529.1 L277.2,526.1 L278.3,523.2 L280.0,520.0 L282.0,517.0 L283.5,514.4 L285.4,511.8 L287.5,508.8 L290.4,506.3 L293.3,503.8 L296.2,501.2 L298.3,498.0 L300.0,495.0 L300.9,491.3 L302.0,487.5 L301.5,484.4 L301.2,481.2 L303.0,477.0 L304.8,479.6 L306.6,482.3 L308.0,485.1 L310.0,487.5 L312.0,490.8 L314.1,494.4 L316.2,497.5 L317.9,500.7 L319.0,503.6 L320.5,507.0" fill="none" stroke="#111" stroke-width="1.1" stroke-linejoin="round" stroke-linecap="round"/>
<path d="M269.0,476.5 L272.3,476.0 L275.3,474.7 L278.2,474.1 L281.2,473.3 L284.2,473.3 L287.1,473.5 L290.1,473.7 L293.3,473.8 L296.2,475.0 L299.7,476.5 L302.7,477.9 L304.7,480.2 L306.7,482.1 L308.9,484.6 L310.8,486.8 L312.3,489.7 L314.0,492.4 L315.3,495.2 L316.7,498.1 L318.2,501.0 L319.5,503.6 L321.0,506.7" fill="none" stroke="#111" stroke-width="1.1" stroke-linejoin="round" stroke-linecap="round"/>
<path d="M321.0,506.7 L320.3,511.0 L318.8,514.2 L319.1,519.1 L320.5,522.3 L319.1,526.2 L318.0,529.9 L317.8,533.1 L313.7,536.1 L310.8,538.5 L309.1,541.6 L306.7,543.8 L304.1,546.5 L301.6,547.9 L301.0,550.6 L298.9,554.6 L296.3,557.4 L293.5,558.7 L293.3,562.7 L294.1,566.2 L293.9,570.6 L294.6,573.5 L294.8,577.9 L296.2,581.5 L295.3,583.7 L293.1,586.6 L291.9,589.6 L290.6,593.4 L289.2,597.7 L288.1,601.1 L285.3,603.7 L283.8,605.8 L280.5,607.8 L278.5,611.2 L273.1,612.5" fill="none" stroke="#111" stroke-width="1.1" stroke-linejoin="round" stroke-linecap="round"/>
<path d="M263.7,582.9 L260.5,583.0 L257.9,581.9 L254.9,582.0 L251.5,581.5 L248.8,579.3 L246.8,576.0 L244.8,573.5 L243.8,570.0 L242.6,566.5 L242.1,562.7 L243.1,559.3 L243.8,556.1 L244.5,552.3 L244.8,549.2 L246.5,546.5 L248.0,544.3 L250.2,541.2 L253.5,539.7 L256.6,538.9 L259.6,537.9 L262.9,537.8 L266.8,537.9 L270.4,538.5 L273.1,540.2 L275.4,542.2 L278.0,543.2 L281.2,545.2 L283.5,547.3 L285.1,550.0 L287.1,552.3 L289.2,554.6 L290.6,558.2 L291.5,562.1 L293.3,565.4 L293.5,568.5 L294.1,572.9 L294.6,576.2 L295.4,579.5 L296.0,582.9" fill="none" stroke="#111" stroke-width="1.1" stroke-linejoin="round" stroke-linecap="round"/>
<path d="M263.7,582.9 L260.5,581.2 L256.9,580.2 L253.9,578.5 L251.1,576.9 L248.8,574.8 L248.2,571.2 L247.2,568.5 L246.2,565.4 L246.7,562.2 L247.5,558.1 L247.5,554.6 L249.6,552.2 L251.6,548.8 L252.9,546.5 L256.5,544.9 L258.8,543.9 L262.3,542.5 L266.2,542.5 L269.4,541.9 L273.1,541.2 L275.7,543.9 L279.2,545.7 L282.5,547.9 L283.8,550.1 L285.4,553.4 L287.6,556.3 L289.2,558.7 L290.4,561.6 L291.2,564.4 L292.0,567.5 L292.5,570.8 L293.8,574.2 L294.2,578.0 L295.2,581.5 L294.4,584.7 L294.5,588.9 L294.1,592.3 L292.0,595.4 L290.7,598.9 L289.2,601.7 L287.5,604.0 L284.8,606.7 L282.5,609.8" fill="none" stroke="#111" stroke-width="1.1" stroke-linejoin="round" stroke-linecap="round"/>
<path d="M239.4,573.5 L239.1,570.1 L239.0,566.0 L238.1,562.7 L238.5,559.4 L239.7,555.4 L240.8,551.9 L243.3,548.9 L245.7,546.5 L247.5,543.8 L249.8,541.8 L252.9,539.0" fill="none" stroke="#111" stroke-width="1.1" stroke-linejoin="round" stroke-linecap="round"/>
<path d="M296.0,581.5 L298.6,580.2 L302.7,580.2 L306.7,576.2 L310.8,573.5 L316.2,575.1 L321.0,574.0" fill="none" stroke="#111" stroke-width="1.1" stroke-linejoin="round" stroke-linecap="round"/>
<path d="M275.8,564.0 L281.2,562.2 L284.5,561.8 L287.9,561.6 L286.5,564.8 L280.6,565.4 L275.8,564.0" fill="none" stroke="#111" stroke-width="1.1" stroke-linejoin="round" stroke-linecap="round"/>
<path d="M281.2,573.5 L284.5,574.0 L287.9,574.8 L291.9,578.8 L286.5,577.5 L283.6,575.6 L281.2,573.5" fill="none" stroke="#111" stroke-width="1.1" stroke-linejoin="round" stroke-linecap="round"/>
<path d="M286.5,557.3 L287.0,560.2 L289.0,564.8 L290.6,568.1 L289.5,571.0 L289.2,575.7 L289.2,578.8 L290.1,582.0 L292.5,583.6 L293.7,586.8 L295.2,589.6 L293.2,593.2 L290.8,594.1 L290.5,597.5 L287.9,600.4 L289.4,602.8 L291.9,605.8 L288.3,609.3 L285.2,611.2" fill="none" stroke="#111" stroke-width="1.1" stroke-linejoin="round" stroke-linecap="round"/>
<path d="M256.9,579.4 L261.0,578.3 L262.3,581.5" fill="none" stroke="#111" stroke-width="1.1" stroke-linejoin="round" stroke-linecap="round"/>
<polygon points="169.3,454.6 194.2,454.6 181.8,606" fill="url(#gradTri)" stroke="#222" stroke-width="1" stroke-linejoin="miter"/>
<text transform="translate(161 532.4) rotate(-90)" font-size="13" font-weight="bold" text-anchor="middle">SDF1<tspan font-weight="normal" stroke-width="0.1">α</tspan>  gradient</text>
<line x1="408.80" y1="447.00" x2="408.80" y2="608.75" stroke="#000" stroke-width="1.5"/>
<line x1="408.05" y1="608.00" x2="516.50" y2="608.00" stroke="#000" stroke-width="1.5"/>
<line x1="404.00" y1="608.00" x2="408.80" y2="608.00" stroke="#000" stroke-width="1.5"/>
<text x="401.9" y="613.2" font-size="12.7" font-weight="bold" text-anchor="end">0</text>
<line x1="404.00" y1="575.94" x2="408.80" y2="575.94" stroke="#000" stroke-width="1.5"/>
<text x="401.9" y="581.1" font-size="12.7" font-weight="bold" text-anchor="end">20</text>
<line x1="404.00" y1="543.88" x2="408.80" y2="543.88" stroke="#000" stroke-width="1.5"/>
<text x="401.9" y="549.1" font-size="12.7" font-weight="bold" text-anchor="end">40</text>
<line x1="404.00" y1="511.82" x2="408.80" y2="511.82" stroke="#000" stroke-width="1.5"/>
<text x="401.9" y="517.0" font-size="12.7" font-weight="bold" text-anchor="end">60</text>
<line x1="404.00" y1="479.76" x2="408.80" y2="479.76" stroke="#000" stroke-width="1.5"/>
<text x="401.9" y="485.0" font-size="12.7" font-weight="bold" text-anchor="end">80</text>
<line x1="404.00" y1="447.70" x2="408.80" y2="447.70" stroke="#000" stroke-width="1.5"/>
<text x="401.9" y="452.9" font-size="12.7" font-weight="bold" text-anchor="end">100</text>
<text transform="translate(373.4 527.6) rotate(-90)" font-size="13.5" font-weight="bold" text-anchor="middle">Displacement (μm)</text>
<line x1="435.15" y1="497.20" x2="435.15" y2="510.70" stroke="#000" stroke-width="1.45"/>
<line x1="426.15" y1="497.20" x2="444.15" y2="497.20" stroke="#000" stroke-width="1.45"/>
<rect x="417.30" y="511.20" width="35.70" height="96.80" fill="#000" stroke="#000" stroke-width="1.2"/>
<line x1="489.00" y1="472.60" x2="489.00" y2="485.80" stroke="#000" stroke-width="1.45"/>
<line x1="480.00" y1="472.60" x2="498.00" y2="472.60" stroke="#000" stroke-width="1.45"/>
<rect x="471.30" y="486.30" width="35.40" height="121.70" fill="#999" stroke="#000" stroke-width="1.2"/>
<line x1="435.20" y1="608.00" x2="435.20" y2="613.30" stroke="#000" stroke-width="1.5"/>
<line x1="488.80" y1="608.00" x2="488.80" y2="613.30" stroke="#000" stroke-width="1.5"/>
<text x="435.2" y="631.9" font-size="13.6" font-weight="bold" text-anchor="middle">WT</text>
<text x="488.8" y="632.3" font-size="13" font-weight="bold" text-anchor="middle">FcR<tspan font-weight="normal" stroke-width="0.1">γ</tspan> KO</text>
<text x="1.8" y="681.7" font-size="25.5" font-weight="bold" text-anchor="start">C</text>
<text transform="translate(85 707.7) scale(0.95 1)" font-size="15.3" font-weight="bold" text-anchor="middle">WT</text>
<text transform="translate(256 707.7) scale(0.94 1)" font-size="15.3" font-weight="bold" text-anchor="middle">FcR<tspan font-weight="normal" stroke-width="0.1">γ</tspan> KO</text>
<g>
<rect x="24.50" y="715.00" width="120.50" height="120.50" fill="#0e0e0e" stroke="none" stroke-width="1"/>
<clipPath id="clipA"><rect x="24.5" y="715" width="120.5" height="120.5"/></clipPath>
<g clip-path="url(#clipA)">
<clipPath id="cellAclip"><polygon points="40.4,784.4 41.6,793.8 46.3,805.5 54.5,820.8 63.9,827.8 75.6,831.3 83.8,829.0 86.9,819.6 90.9,809.0 95.6,803.2 100.3,806.7 104.9,811.4 115.5,812.5 124.9,807.9 131.5,799.6 133.8,786.7 128.4,775.0 121.4,764.4 114.3,755.1 104.9,746.8 94.4,740.3 82.7,738.6 70.9,741.7 60.4,749.2 52.2,759.8 45.1,771.5"/></clipPath>
<g filter="url(#rough)">
<polygon points="40.4,784.4 41.6,793.8 46.3,805.5 54.5,820.8 63.9,827.8 75.6,831.3 83.8,829.0 86.9,819.6 90.9,809.0 95.6,803.2 100.3,806.7 104.9,811.4 115.5,812.5 124.9,807.9 131.5,799.6 133.8,786.7 128.4,775.0 121.4,764.4 114.3,755.1 104.9,746.8 94.4,740.3 82.7,738.6 70.9,741.7 60.4,749.2 52.2,759.8 45.1,771.5" fill="#2b2b2b"/>
<g clip-path="url(#cellAclip)">
<ellipse cx="83.8" cy="782.0" rx="29.3" ry="24.6" fill="#4c4c4c" opacity="0.85" filter="url(#blur3)"/>
</g>
<polygon points="40.4,784.4 41.6,793.8 46.3,805.5 54.5,820.8 63.9,827.8 75.6,831.3 83.8,829.0 86.9,819.6 90.9,809.0 95.6,803.2 100.3,806.7 104.9,811.4 115.5,812.5 124.9,807.9 131.5,799.6 133.8,786.7 128.4,775.0 121.4,764.4 114.3,755.1 104.9,746.8 94.4,740.3 82.7,738.6 70.9,741.7 60.4,749.2 52.2,759.8 45.1,771.5" fill="#fff" opacity="0.33" filter="url(#speckA)"/>
</g>
<ellipse cx="79.8" cy="792.6" rx="12.2" ry="11.3" fill="#ddd" opacity="0.9" filter="url(#blur2)"/>
<ellipse cx="76.1" cy="792.6" rx="7.0" ry="6.6" fill="#fff" opacity="1.0" filter="url(#blur1)"/>
<ellipse cx="82.2" cy="796.1" rx="6.1" ry="5.2" fill="#fff" opacity="1.0" filter="url(#blur1)"/>
<ellipse cx="83.8" cy="785.6" rx="5.2" ry="3.8" fill="#eee" opacity="0.9" filter="url(#blur1)"/>
<ellipse cx="87.4" cy="771.5" rx="9.4" ry="4.7" fill="#aaa" opacity="0.6" filter="url(#blur2)"/>
<ellipse cx="91.6" cy="779.7" rx="4.7" ry="3.8" fill="#222" opacity="0.85" filter="url(#blur1)"/>
<ellipse cx="119.7" cy="780.2" rx="4.2" ry="4.6" fill="none" stroke="#ddd" stroke-width="2.4" filter="url(#blur1)"/>
<ellipse cx="121.6" cy="782.0" rx="3.8" ry="3.3" fill="#fff" opacity="1.0" filter="url(#blur1)"/>
<ellipse cx="117.9" cy="776.9" rx="2.8" ry="2.1" fill="#eee" opacity="0.9" filter="url(#blur1)"/>
<ellipse cx="61.5" cy="776.2" rx="4.2" ry="4.7" fill="#aaa" opacity="0.7" filter="url(#blur2)"/>
<ellipse cx="110.3" cy="737.0" rx="1.6" ry="2.1" fill="#fff" opacity="1.0" filter="url(#blur1)"/>
<ellipse cx="110.3" cy="737.0" rx="1.2" ry="1.6" fill="#fff" opacity="1.0"/>
<rect x="25" y="811" width="14" height="13" rx="3" fill="#8a8a8a" filter="url(#blur1)"/>
</g>
<rect x="28.70" y="822.30" width="14.20" height="3.00" fill="#fff" stroke="none" stroke-width="1"/>
</g>
<g>
<rect x="192.30" y="715.00" width="121.00" height="120.50" fill="#0e0e0e" stroke="none" stroke-width="1"/>
<g filter="url(#rough)">
<polygon points="253.0,726.9 269.4,729.3 282.3,737.5 290.5,749.2 295.2,763.3 295.2,777.4 291.7,791.4 284.7,803.2 274.1,811.4 262.4,816.1 254.2,819.6 250.7,823.1 244.8,820.8 238.9,814.9 229.5,807.9 221.3,798.5 216.6,786.7 215.5,772.7 216.6,758.6 221.3,746.8 229.5,736.3 240.1,729.3" fill="#232323" stroke="#4c4c4c" stroke-width="1.4"/>
<polygon points="253.0,726.9 269.4,729.3 282.3,737.5 290.5,749.2 295.2,763.3 295.2,777.4 291.7,791.4 284.7,803.2 274.1,811.4 262.4,816.1 254.2,819.6 250.7,823.1 244.8,820.8 238.9,814.9 229.5,807.9 221.3,798.5 216.6,786.7 215.5,772.7 216.6,758.6 221.3,746.8 229.5,736.3 240.1,729.3" fill="#fff" opacity="0.4" filter="url(#speckB)"/>
</g>
<path d="M252.5,770.8 a6,7 0 1 1 -3,14.5" fill="none" stroke="#fff" stroke-width="5" stroke-linecap="round" filter="url(#blur1)"/>
<ellipse cx="244.1" cy="775.5" rx="2.6" ry="1.9" fill="#fff" opacity="1.0" filter="url(#blur1)"/>
<ellipse cx="249.5" cy="820.8" rx="3.3" ry="3.1" fill="#fff" opacity="1.0" filter="url(#blur1)"/>
<ellipse cx="249.5" cy="820.8" rx="2.1" ry="1.9" fill="#fff" opacity="1.0"/>
<ellipse cx="216.4" cy="794.9" rx="0.9" ry="3.3" fill="#ccc" opacity="1.0" filter="url(#blur1)"/>
<ellipse cx="208.0" cy="744.0" rx="1.2" ry="1.9" fill="#333" opacity="1.0" filter="url(#blur1)"/>
<rect x="202.60" y="820.80" width="14.00" height="3.00" fill="#fff" stroke="none" stroke-width="1"/>
</g>
<line x1="407.50" y1="666.30" x2="407.50" y2="828.75" stroke="#000" stroke-width="1.5"/>
<line x1="406.75" y1="828.00" x2="510.00" y2="828.00" stroke="#000" stroke-width="1.5"/>
<line x1="402.70" y1="828.00" x2="407.50" y2="828.00" stroke="#000" stroke-width="1.5"/>
<text x="400.5" y="832.8" font-size="12.7" font-weight="bold" text-anchor="end">0</text>
<line x1="402.70" y1="787.75" x2="407.50" y2="787.75" stroke="#000" stroke-width="1.5"/>
<text x="400.5" y="792.5" font-size="12.7" font-weight="bold" text-anchor="end">2500</text>
<line x1="402.70" y1="747.50" x2="407.50" y2="747.50" stroke="#000" stroke-width="1.5"/>
<text x="400.5" y="752.3" font-size="12.7" font-weight="bold" text-anchor="end">5000</text>
<line x1="402.70" y1="707.25" x2="407.50" y2="707.25" stroke="#000" stroke-width="1.5"/>
<text x="400.5" y="712.0" font-size="12.7" font-weight="bold" text-anchor="end">7500</text>
<line x1="402.70" y1="667.00" x2="407.50" y2="667.00" stroke="#000" stroke-width="1.5"/>
<text x="400.5" y="671.8" font-size="12.7" font-weight="bold" text-anchor="end">10000</text>
<text transform="translate(356.3 746.5) rotate(-90)" font-size="13.5" font-weight="bold" text-anchor="middle">Surface area (μm<tspan dy="-5" font-size="8.5">2</tspan><tspan dy="5">)</tspan></text>
<line x1="433.75" y1="673.60" x2="433.75" y2="686.70" stroke="#000" stroke-width="1.45"/>
<line x1="424.50" y1="673.60" x2="443.00" y2="673.60" stroke="#000" stroke-width="1.45"/>
<rect x="416.10" y="687.20" width="35.30" height="140.80" fill="#000" stroke="#000" stroke-width="1.2"/>
<line x1="487.25" y1="701.60" x2="487.25" y2="705.00" stroke="#000" stroke-width="1.45"/>
<line x1="477.90" y1="701.60" x2="496.60" y2="701.60" stroke="#000" stroke-width="1.45"/>
<rect x="469.30" y="705.50" width="35.90" height="122.50" fill="#999" stroke="#000" stroke-width="1.2"/>
<line x1="434.00" y1="828.00" x2="434.00" y2="833.30" stroke="#000" stroke-width="1.5"/>
<line x1="487.00" y1="828.00" x2="487.00" y2="833.30" stroke="#000" stroke-width="1.5"/>
<text x="434" y="851" font-size="13.6" font-weight="bold" text-anchor="middle">WT</text>
<text x="487" y="851.2" font-size="13" font-weight="bold" text-anchor="middle">FcR<tspan font-weight="normal" stroke-width="0.1">γ</tspan> KO</text>
<text x="1.6" y="898.8" font-size="25.5" font-weight="bold" text-anchor="start">D</text>
<text x="152.2" y="891" font-size="11.5" font-weight="bold" text-anchor="middle">WT</text>
<text x="217.7" y="891" font-size="11.8" font-weight="bold" text-anchor="middle">FcR<tspan font-weight="normal" stroke-width="0.1">γ</tspan>  KO</text>
<line x1="126.50" y1="896.50" x2="180.00" y2="896.50" stroke="#222" stroke-width="1.2"/>
<line x1="189.40" y1="896.50" x2="246.20" y2="896.50" stroke="#222" stroke-width="1.2"/>
<text x="142.4" y="918.5" font-size="12" font-weight="bold" text-anchor="middle" transform="rotate(-45 142.4 918.5)" dy="4.2">BSA</text>
<text x="171.4" y="919.5" font-size="12" font-weight="bold" text-anchor="middle" transform="rotate(-45 171.4 919.5)" dy="4.2">FN</text>
<text x="203" y="918.5" font-size="12" font-weight="bold" text-anchor="middle" transform="rotate(-45 203 918.5)" dy="4.2">BSA</text>
<text x="232" y="919.5" font-size="12" font-weight="bold" text-anchor="middle" transform="rotate(-45 232 919.5)" dy="4.2">FN</text>
<rect x="125.00" y="941.20" width="122.60" height="30.80" fill="url(#blotbg)" stroke="none" stroke-width="1"/>
<rect x="125.00" y="941.20" width="122.60" height="30.80" fill="#000" stroke="none" stroke-width="1" filter="url(#blotn)"/>
<rect x="125.00" y="941.20" width="122.60" height="30.80" fill="url(#blottop)" stroke="none" stroke-width="1"/>
<rect x="131.0" y="948.5" width="20.0" height="3.4" rx="1.2" fill="#8a8a8a" opacity="0.45" filter="url(#blurb)"/>
<rect x="131.0" y="955.7" width="20.0" height="3.4" rx="1.2" fill="#8a8a8a" opacity="0.4" filter="url(#blurb)"/>
<rect x="160.0" y="948.6" width="21.5" height="3.6" rx="1.2" fill="#777" opacity="0.6" filter="url(#blurb)"/>
<rect x="160.5" y="955.7" width="20.5" height="3.8" rx="1.2" fill="#2a2a2a" opacity="0.9" filter="url(#blurb)"/>
<rect x="191.0" y="948.4" width="20.0" height="3.6" rx="1.2" fill="#9a9a9a" opacity="0.4" filter="url(#blurb)"/>
<rect x="191.0" y="955.5" width="20.0" height="3.0" rx="1.2" fill="#aaa" opacity="0.3" filter="url(#blurb)"/>
<rect x="221.0" y="953.8" width="21.5" height="3.6" rx="1.2" fill="#333" opacity="0.85" filter="url(#blurb)"/>
<rect x="220.5" y="948.5" width="22.5" height="3.0" rx="1.2" fill="#999" opacity="0.4" filter="url(#blurb)"/>
<rect x="125.00" y="941.20" width="122.60" height="30.80" fill="none" stroke="#1a1a1a" stroke-width="1.4"/>
<rect x="125.00" y="977.70" width="122.60" height="31.00" fill="url(#blotbg)" stroke="none" stroke-width="1"/>
<rect x="125.00" y="977.70" width="122.60" height="31.00" fill="#000" stroke="none" stroke-width="1" filter="url(#blotn)"/>
<rect x="131.0" y="992.2" width="20.3" height="3.2" rx="1.2" fill="#2a2a2a" opacity="0.88" filter="url(#blurb)"/>
<rect x="160.2" y="991.8" width="20.8" height="3.5" rx="1.2" fill="#222" opacity="0.92" filter="url(#blurb)"/>
<rect x="190.0" y="991.5" width="20.5" height="3.0" rx="1.2" fill="#2a2a2a" opacity="0.88" filter="url(#blurb)"/>
<rect x="220.2" y="991.0" width="22.0" height="3.5" rx="1.2" fill="#222" opacity="0.92" filter="url(#blurb)"/>
<rect x="125.00" y="977.70" width="122.60" height="31.00" fill="none" stroke="#1a1a1a" stroke-width="1.4"/>
<text x="259.8" y="954.8" font-size="12.7" font-weight="bold" text-anchor="start">WCL</text>
<text x="259.8" y="970.3" font-size="12.7" font-weight="bold" text-anchor="start">blot:phospho-MLC</text>
<text x="259.8" y="999.2" font-size="12.7" font-weight="bold" text-anchor="start">blot: MLC</text>
</svg></body></html>
